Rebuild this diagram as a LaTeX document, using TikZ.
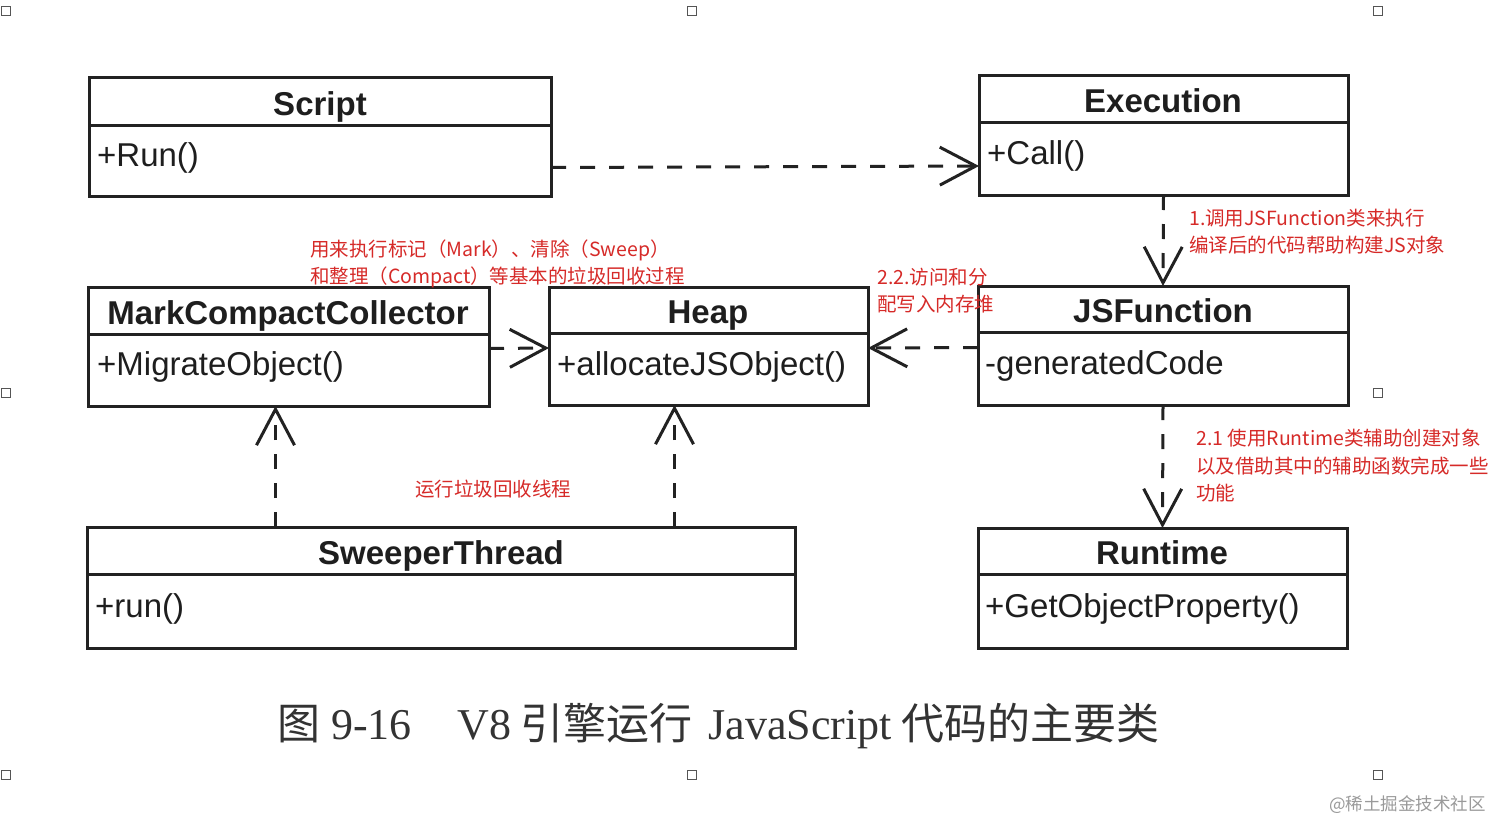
\documentclass[tikz,border=0pt]{standalone}
\usepackage{fontspec}
\setmainfont{Liberation Sans}
\newfontfamily\cjk{Noto Sans CJK SC}
\newfontfamily\capserif{Liberation Serif}
\usetikzlibrary{arrows.meta}
\definecolor{linec}{HTML}{222222}
\definecolor{txtc}{HTML}{1E1E1E}
\definecolor{redc}{RGB}{214,42,40}
\definecolor{handle}{HTML}{555555}
\definecolor{wmark}{HTML}{9A9A9A}
\tikzset{
  umlbox/.style={draw=linec, line width=3pt, anchor=north west, inner sep=0pt, outer sep=0pt},
  divider/.style={draw=linec, line width=3pt},
  title/.style={font=\bfseries\fontsize{33}{36}\selectfont, text=txtc, anchor=base, inner sep=0pt},
  method/.style={font=\fontsize{33}{36}\selectfont, text=txtc, anchor=base west, inner sep=0pt},
  dep/.style={draw=linec, line width=3pt, dash pattern=on 15pt off 14pt,
    -{Straight Barb[length=36pt, width=38pt, line width=3pt]}},
  note/.style={font=\cjk\fontsize{19.5}{24}\selectfont, text=redc, anchor=base west, inner sep=0pt},
  hbox/.style={draw=handle, line width=1.3pt, minimum width=9pt, minimum height=9pt, inner sep=0pt},
}
\begin{document}
\begin{tikzpicture}[x=1pt, y=-1pt]
\useasboundingbox (0,0) rectangle (1512,838);
\fill[white] (0,0) rectangle (1512,838);

% selection handles
\foreach \hx/\hy [count=\i] in {6/11, 692/11, 1378/11, 6/393, 1378/393, 6/775, 692/775, 1378/775}
  \node[hbox] (h\i) at (\hx,\hy) {};

% Script
\node[umlbox, minimum width=462pt, minimum height=119pt] (script) at (89,77) {};
\draw[divider] (89,125) -- (551,125);
\node[title] (scriptT) at (320,115) {Script};
\node[method] (scriptM) at (97,166) {+Run()};

% Execution
\node[umlbox, minimum width=369pt, minimum height=120pt] (execution) at (979,75) {};
\draw[divider] (979,122) -- (1348,122);
\node[title] (executionT) at (1163,112) {Execution};
\node[method] (executionM) at (987,164) {+Call()};

% MarkCompactCollector
\node[umlbox, minimum width=401pt, minimum height=119pt] (mcc) at (88,287) {};
\draw[divider] (88,334) -- (489,334);
\node[title] (mccT) at (288,324) {MarkCompactCollector};
\node[method] (mccM) at (97,375) {+MigrateObject()};

% Heap
\node[umlbox, minimum width=319pt, minimum height=118pt] (heap) at (549,287) {};
\draw[divider] (549,333) -- (868,333);
\node[title] (heapT) at (708,323) {Heap};
\node[method] (heapM) at (557,375) {+allocateJSObject()};

% JSFunction
\node[umlbox, minimum width=370pt, minimum height=119pt] (jsf) at (978,286) {};
\draw[divider] (978,332) -- (1348,332);
\node[title] (jsfT) at (1163,322) {JSFunction};
\node[method] (jsfM) at (985,374) {-generatedCode};

% SweeperThread
\node[umlbox, minimum width=708pt, minimum height=121pt] (sweeper) at (87,527) {};
\draw[divider] (87,574) -- (795,574);
\node[title] (sweeperT) at (441,564) {SweeperThread};
\node[method] (sweeperM) at (95,617) {+run()};

% Runtime
\node[umlbox, minimum width=369pt, minimum height=120pt] (runtime) at (978,528) {};
\draw[divider] (978,574) -- (1347,574);
\node[title] (runtimeT) at (1162,564) {Runtime};
\node[method] (runtimeM) at (985,617) {+GetObjectProperty()};

% connectors
\draw[dep] ([yshift=-31pt]script.east) -- ([yshift=-31pt]execution.west);
\draw[dep] ([yshift=-2pt]mcc.east) -- ([yshift=-2pt]heap.west);
\draw[dep] ([yshift=-2pt]jsf.west) -- ([yshift=-2pt]heap.east);
\draw[dep] (execution.south) -- (jsf.north);
\draw[dep] (jsf.south) -- (runtime.north);
\coordinate (mccIn) at ([xshift=-13pt]mcc.south);
\coordinate (heapIn) at ([xshift=-34pt]heap.south);
\draw[dep] (sweeper.north -| mccIn) -- (mccIn);
\draw[dep] (sweeper.north -| heapIn) -- (heapIn);

% red notes
\node[note] (n1a) at (310,256) {用来执行标记（Mark）、清除（Sweep）};
\node[note] (n1b) at (310,283) {和整理（Compact）等基本的垃圾回收过程};
\node[note] (n2a) at (877,284) {2.2.访问和分};
\node[note] (n2b) at (877,311) {配写入内存堆};
\node[note] (n3a) at (1189,225) {1.调用JSFunction类来执行};
\node[note] (n3b) at (1189,252) {编译后的代码帮助构建JS对象};
\node[note] (n4a) at (1196,445) {2.1 使用Runtime类辅助创建对象};
\node[note] (n4b) at (1196,473) {以及借助其中的辅助函数完成一些};
\node[note] (n4c) at (1196,500) {功能};
\node[note] (n5) at (415,496) {运行垃圾回收线程};

% caption
\node[anchor=base west, inner sep=0pt, text=black!80] (caption) at (277,739)
  {\cjk\fontsize{43}{48}\selectfont 图\hspace{11pt}{\capserif\fontsize{44}{48}\selectfont 9-16}\hspace{46pt}{\capserif\fontsize{44}{48}\selectfont V8}\hspace{9pt}引擎运行\hspace{16pt}{\capserif\fontsize{44}{48}\selectfont JavaScript}\hspace{10pt}代码的主要类};

% watermark
\node[anchor=base west, inner sep=0pt, text=wmark, font=\cjk\fontsize{17.5}{20}\selectfont] (wm) at (1329,810) {@稀土掘金技术社区};
\end{tikzpicture}
\end{document}
